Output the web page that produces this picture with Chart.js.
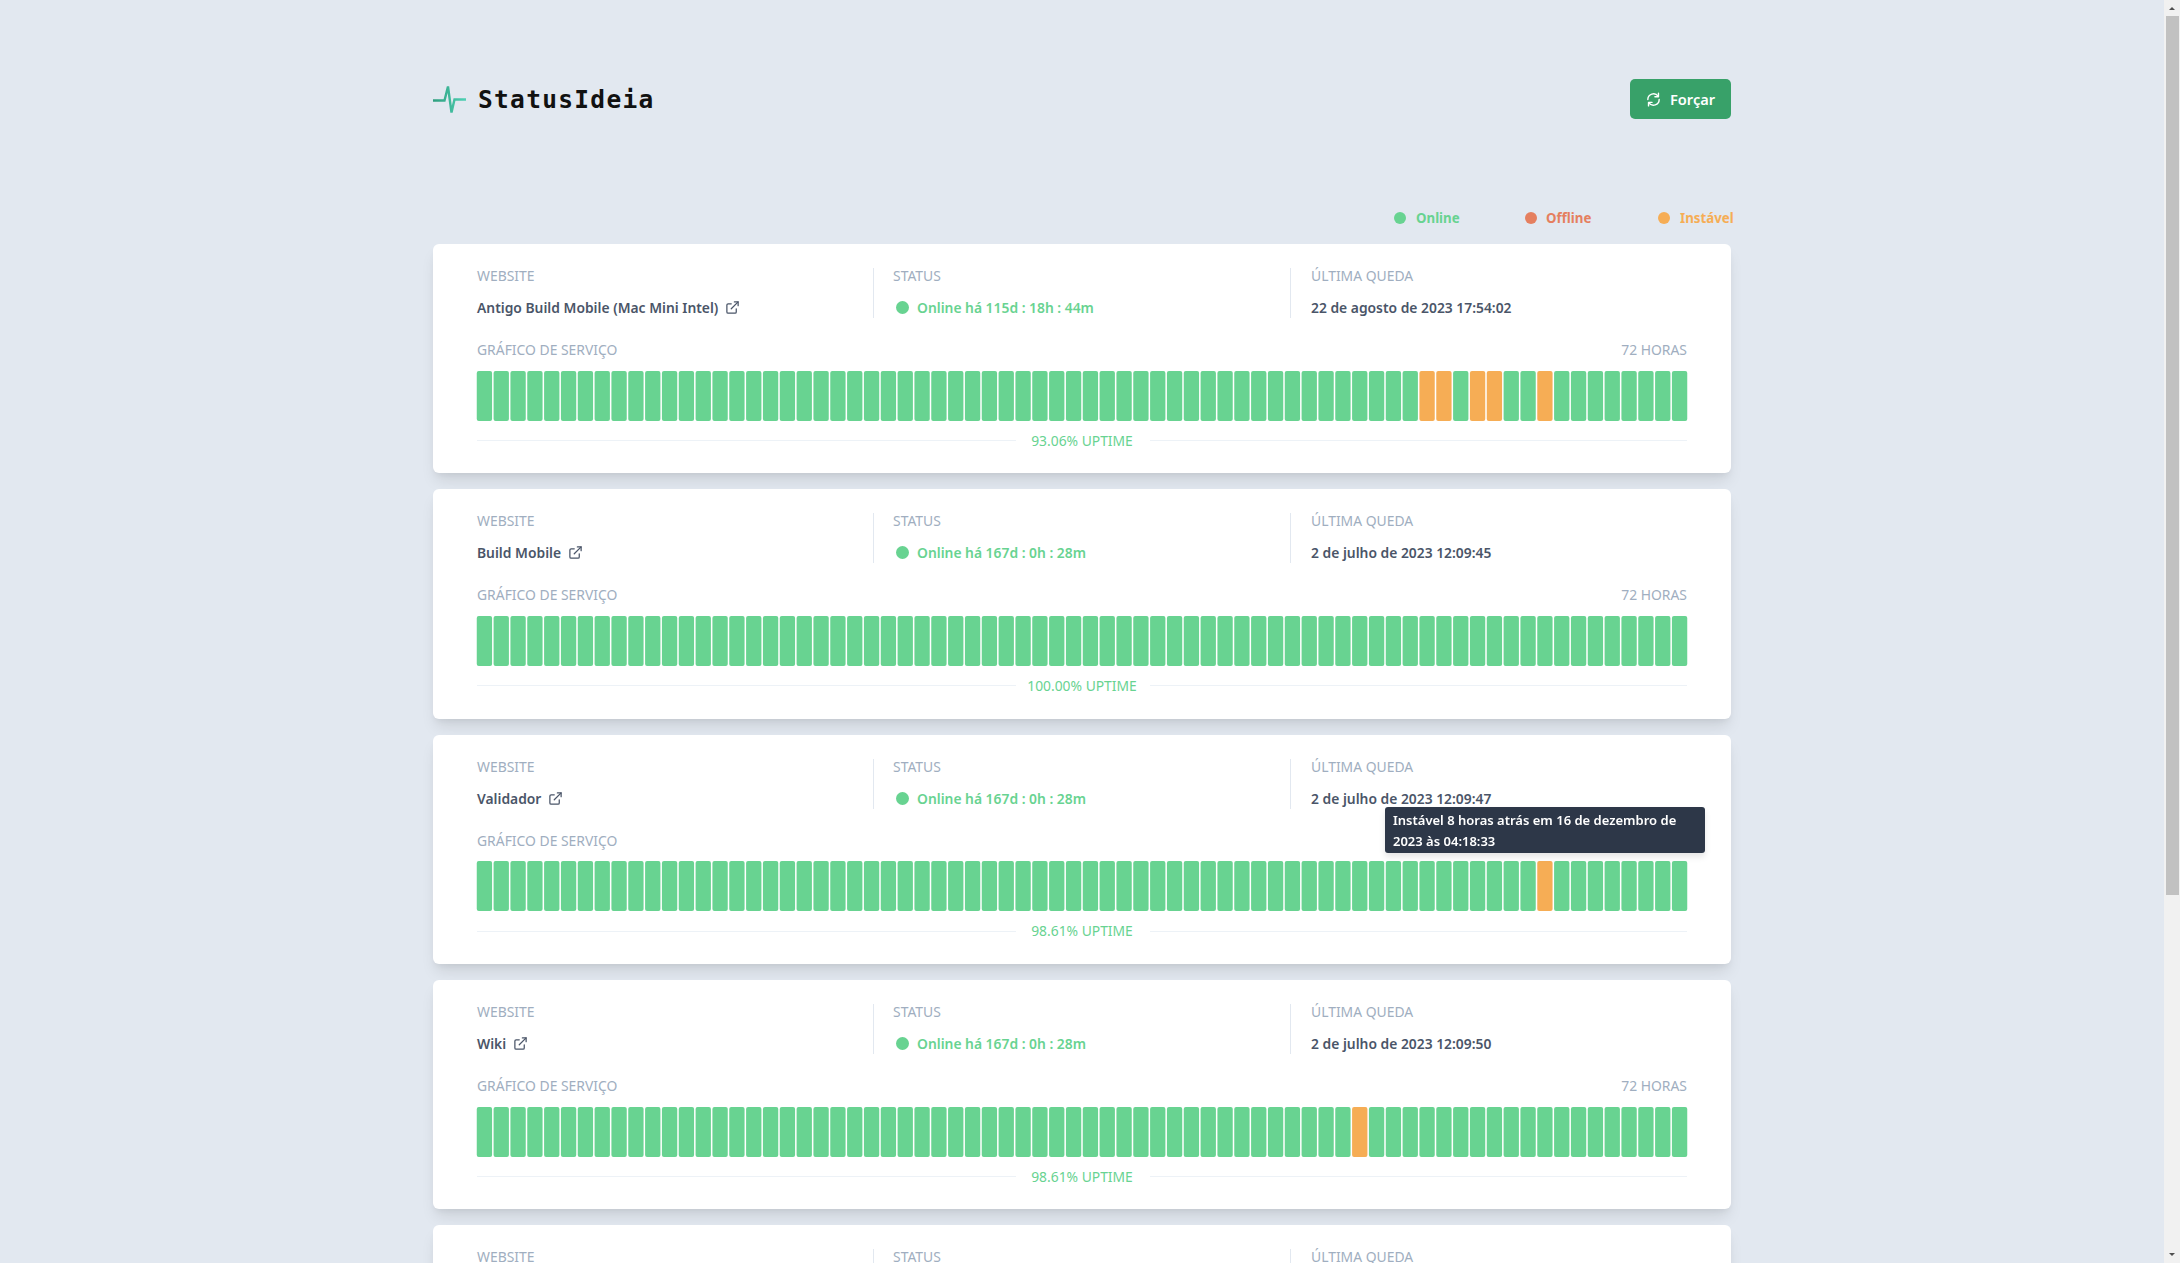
<!DOCTYPE html>
<html lang="pt-BR">
<head>
<meta charset="utf-8">
<title>StatusIdeia</title>
<script src="https://cdn.jsdelivr.net/npm/chart.js@4"></script>
<style>
html,body{margin:0;padding:0;width:2180px;height:1263px;overflow:hidden;background:#e2e8f0;font-family:"Noto Sans",sans-serif;}
.abs{position:absolute;white-space:nowrap;}
.card{position:absolute;left:433px;width:1298px;height:229.4px;background:#fff;border-radius:6px;box-shadow:0 10px 15px -3px rgba(0,0,0,.1),0 4px 6px -2px rgba(0,0,0,.05);}
.lbl{position:absolute;white-space:nowrap;font-size:13.9px;line-height:20px;color:#a0aec0;}
.val{position:absolute;white-space:nowrap;font-size:13.85px;line-height:20px;font-weight:600;color:#4a5568;}
.div{position:absolute;width:1px;height:50px;top:24px;background:#e2e8f0;}
.dot{position:absolute;border-radius:50%;}
canvas{position:absolute;display:block;}
.rule{position:absolute;height:1px;background:#edf2f7;}
.up{position:absolute;left:0;width:1298px;text-align:center;white-space:nowrap;font-size:13.85px;line-height:20px;color:#68d391;}
</style>
</head>
<body>
<div id="page"></div>
<script>
const sites = ["Antigo Build Mobile (Mac Mini Intel)", "Build Mobile", "Validador", "Wiki", ""];
const statusTexts = ["Online há 115d : 18h : 44m", "Online há 167d : 0h : 28m", "Online há 167d : 0h : 28m", "Online há 167d : 0h : 28m", ""];
const lastDown = ["22 de agosto de 2023 17:54:02", "2 de julho de 2023 12:09:45", "2 de julho de 2023 12:09:47", "2 de julho de 2023 12:09:50", ""];
const uptimes = ["93.06% UPTIME", "100.00% UPTIME", "98.61% UPTIME", "98.61% UPTIME"];
const legendNames = ["Online", "Offline", "Instável"];
const hourSlots = [72,71,70,69,68,67,66,65,64,63,62,61,60,59,58,57,56,55,54,53,52,51,50,49,48,47,46,45,44,43,42,41,40,39,38,37,36,35,34,33,32,31,30,29,28,27,26,25,24,23,22,21,20,19,18,17,16,15,14,13,12,11,10,9,8,7,6,5,4,3,2,1];
// 1 = online, 2 = instável
const antigoStatus = [1,1,1,1,1,1,1,1,1,1,1,1,1,1,1,1,1,1,1,1,1,1,1,1,1,1,1,1,1,1,1,1,1,1,1,1,1,1,1,1,1,1,1,1,1,1,1,1,1,1,1,1,1,1,1,1,2,2,1,2,2,1,1,2,1,1,1,1,1,1,1,1];
const buildStatus = [1,1,1,1,1,1,1,1,1,1,1,1,1,1,1,1,1,1,1,1,1,1,1,1,1,1,1,1,1,1,1,1,1,1,1,1,1,1,1,1,1,1,1,1,1,1,1,1,1,1,1,1,1,1,1,1,1,1,1,1,1,1,1,1,1,1,1,1,1,1,1,1];
const validadorStatus = [1,1,1,1,1,1,1,1,1,1,1,1,1,1,1,1,1,1,1,1,1,1,1,1,1,1,1,1,1,1,1,1,1,1,1,1,1,1,1,1,1,1,1,1,1,1,1,1,1,1,1,1,1,1,1,1,1,1,1,1,1,1,1,2,1,1,1,1,1,1,1,1];
const wikiStatus = [1,1,1,1,1,1,1,1,1,1,1,1,1,1,1,1,1,1,1,1,1,1,1,1,1,1,1,1,1,1,1,1,1,1,1,1,1,1,1,1,1,1,1,1,1,1,1,1,1,1,1,1,2,1,1,1,1,1,1,1,1,1,1,1,1,1,1,1,1,1,1,1];
const heights = [1,1,1,1,1,1,1,1,1,1,1,1,1,1,1,1,1,1,1,1,1,1,1,1,1,1,1,1,1,1,1,1,1,1,1,1,1,1,1,1,1,1,1,1,1,1,1,1,1,1,1,1,1,1,1,1,1,1,1,1,1,1,1,1,1,1,1,1,1,1,1,1];

const GREEN="#68d391", ORANGE="#f6ad55", RED="#e57f5f";
const extIcon='<svg width="15" height="15" viewBox="0 0 24 24" fill="none" stroke="#4a5568" stroke-width="2" stroke-linecap="round" stroke-linejoin="round"><path d="M18 14v5a2 2 0 0 1-2 2H5a2 2 0 0 1-2-2V8a2 2 0 0 1 2-2h5"/><path d="M15 3h6v6"/><path d="M10 14L21 3"/></svg>';
const page=document.getElementById('page');
function add(html){const t=document.createElement('div');t.innerHTML=html;while(t.firstChild)page.appendChild(t.firstChild);}

add(`<svg class="abs" style="left:430px;top:82px" width="40" height="36" viewBox="430 82 40 36"><defs><linearGradient id="g" gradientUnits="userSpaceOnUse" x1="433" y1="0" x2="466" y2="0"><stop offset="0" stop-color="#2f9e7e"/><stop offset="1" stop-color="#4fd1b5"/></linearGradient></defs><path d="M433 100.5H444.5L448 86.5L451.5 112.5L454.5 99.5H466" fill="none" stroke="url(#g)" stroke-width="2.4" stroke-linejoin="miter"/></svg>`);
add(`<div class="abs" style="left:478px;top:82px;font:700 24.5px/35px 'DejaVu Sans Mono',monospace;letter-spacing:1.3px;color:#111;">StatusIdeia</div>`);
add(`<div class="abs" style="left:1630px;top:79px;width:101px;height:40px;background:#38a169;border-radius:5px;"></div>`);
add(`<svg class="abs" style="left:1645px;top:91px" width="17" height="17" viewBox="0 0 24 24" fill="none" stroke="#fff" stroke-width="2" stroke-linecap="round" stroke-linejoin="round"><path d="M20 12a8 8 0 0 1-14.5 4.7"/><path d="M4 12A8 8 0 0 1 18.5 7.3"/><path d="M19 3v5h-5"/><path d="M5 21v-5h5"/></svg>`);
add(`<div class="abs" style="left:1670px;top:88px;font:600 14.6px/22px 'Noto Sans',sans-serif;color:#fff;">Forçar</div>`);

const legendDots=[1400,1531,1664], legendText=[1416,1546,1680], legendCols=[GREEN,RED,ORANGE];
legendNames.forEach((n,i)=>{
 add(`<div class="dot" style="left:${legendDots[i]-6}px;top:212px;width:12px;height:12px;background:${legendCols[i]}"></div>`);
 add(`<div class="abs" style="left:${legendText[i]}px;top:208px;font:700 13.3px/20px 'Noto Sans',sans-serif;color:${legendCols[i]}">${n}</div>`);
});

const cardTops=[244,489.3,734.6,980,1225.3];
const statusSets=[antigoStatus,buildStatus,validadorStatus,wikiStatus];
cardTops.forEach((top,i)=>{
 let h=`<div class="card" style="top:${top}px">`;
 h+=`<div class="lbl" style="left:44px;top:22px">WEBSITE</div>`;
 h+=`<div class="lbl" style="left:460px;top:22px">STATUS</div>`;
 h+=`<div class="lbl" style="left:878px;top:22px">ÚLTIMA QUEDA</div>`;
 h+=`<div class="div" style="left:440px"></div><div class="div" style="left:857px"></div>`;
 if(i<4){
  h+=`<div class="val" style="left:44px;top:54px">${sites[i]}<span style="display:inline-block;margin-left:7px;vertical-align:-2px">${extIcon}</span></div>`;
  h+=`<div class="dot" style="left:463px;top:57px;width:13px;height:13px;background:${GREEN}"></div>`;
  h+=`<div class="val" style="left:484px;top:54px;color:${GREEN}">${statusTexts[i]}</div>`;
  h+=`<div class="val" style="left:878px;top:54px">${lastDown[i]}</div>`;
  h+=`<div class="lbl" style="left:44px;top:96px">GRÁFICO DE SERVIÇO</div>`;
  h+=`<div class="lbl" style="right:44px;top:96px">72 HORAS</div>`;
  h+=`<canvas id="c${i}" width="1212" height="50" style="left:43px;top:126.6px;width:1212px;height:50px"></canvas>`;
  h+=`<div class="rule" style="left:44px;width:539px;top:196px"></div><div class="rule" style="left:717px;width:537px;top:196px"></div>`;
  h+=`<div class="up" style="top:186.6px">${uptimes[i]}</div>`;
 }
 h+=`</div>`;
 add(h);
});

statusSets.forEach((st,i)=>{
 const el=document.getElementById('c'+i);
 new Chart(el,{type:'bar',
  data:{labels:hourSlots,datasets:[{data:heights,
    backgroundColor:st.map(s=>s===2?ORANGE:GREEN),
    borderRadius:2,borderSkipped:false,categoryPercentage:1,barPercentage:0.91}]},
  options:{responsive:false,maintainAspectRatio:false,animation:false,devicePixelRatio:1,
    layout:{padding:0},
    plugins:{legend:{display:false},tooltip:{enabled:false}},
    scales:{x:{display:false},y:{display:false,min:0,max:1}}}
 });
});

add(`<div class="abs" style="left:1385px;top:807px;width:320px;height:46px;background:#2d3748;border-radius:3px;box-shadow:0 4px 6px rgba(0,0,0,.1);z-index:5"></div>`);
add(`<div class="abs" style="left:1393px;top:810px;font:600 13px/21px 'Noto Sans',sans-serif;color:#fff;z-index:6">Instável 8 horas atrás em 16 de dezembro de<br>2023 às 04:18:33</div>`);

// scrollbar
add(`<div class="abs" style="left:2164px;top:0;width:16px;height:1263px;background:#f1f1f1"></div>`);
add(`<div class="abs" style="left:2166px;top:16px;width:13px;height:879px;background:#c1c1c1"></div>`);
add(`<svg class="abs" style="left:2164px;top:0" width="16" height="16"><path d="M5 10H11L8 7Z" fill="#505050"/></svg>`);
add(`<svg class="abs" style="left:2164px;top:1247px" width="16" height="16"><path d="M5 6H11L8 9Z" fill="#505050"/></svg>`);
</script>
</body>
</html>
